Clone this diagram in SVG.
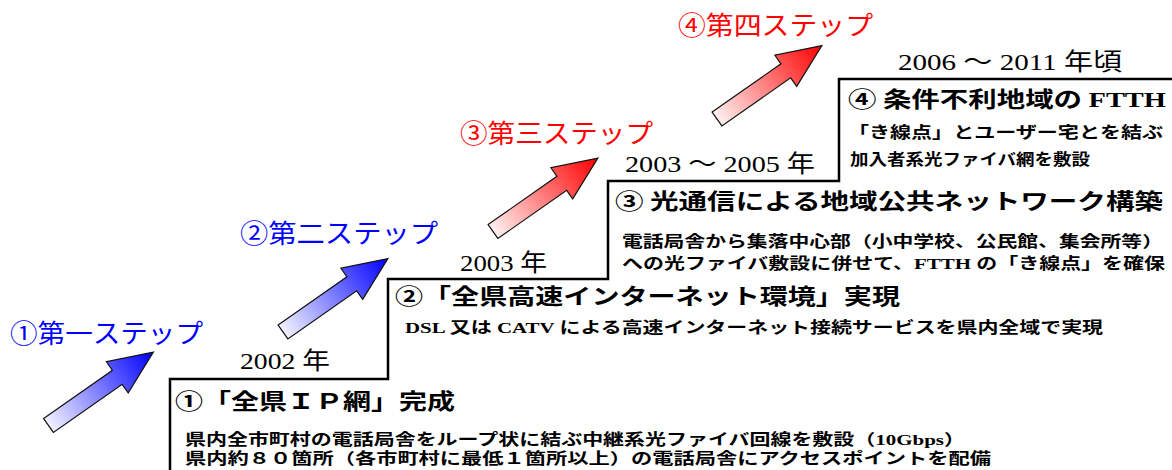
<svg xmlns="http://www.w3.org/2000/svg" width="1172" height="470" viewBox="0 0 1172 470">
<defs>
<linearGradient id="gBlue" x1="0" y1="0" x2="1" y2="0">
<stop offset="0" stop-color="#f2f2ff"/>
<stop offset="1" stop-color="#0000ff"/>
</linearGradient>
<linearGradient id="gRed" x1="0" y1="0" x2="1" y2="0">
<stop offset="0" stop-color="#fff0f0"/>
<stop offset="1" stop-color="#ff0000"/>
</linearGradient>
<path id="arr" d="M0,-8.5 H84 V-19 L128,0 L84,19 V8.5 H0 Z"/>
<style>
.step{font-family:"Noto Sans CJK JP","Liberation Sans",sans-serif;font-size:26px;}
.blue{fill:#0000ff;}
.red{fill:#ff0000;}
.year{font-family:"Liberation Serif","Noto Sans CJK JP",serif;font-size:24px;fill:#000;}
.title{font-family:"Noto Sans CJK JP","Liberation Sans",sans-serif;font-size:21.5px;font-weight:bold;fill:#000;}
.body{font-family:"Liberation Serif","Noto Sans CJK JP",serif;font-size:15.5px;font-weight:bold;fill:#000;}
.ser{font-family:"Liberation Serif",serif;}
.stair{fill:none;stroke:#000;stroke-width:2.5;}
.arrow{stroke:#111;stroke-width:1.2;stroke-linejoin:miter;}
</style>
</defs>
<rect width="1172" height="470" fill="#fff"/>

<g id="stairs">
<path class="stair" d="M170,470 V379 H388 V279 H608 V181 H839 V79 H1172"/>
</g>

<g id="connectors">
<use href="#arr" class="arrow" fill="url(#gBlue)" transform="translate(48.5,425.5) rotate(-35)"/>
<use href="#arr" class="arrow" fill="url(#gBlue)" transform="translate(283,332) rotate(-35)"/>
<use href="#arr" class="arrow" fill="url(#gRed)" transform="translate(493,231.5) rotate(-35)"/>
<use href="#arr" class="arrow" fill="url(#gRed)" transform="translate(717,119) rotate(-35)"/>
</g>

<g id="label1"><text class="step blue" x="10" y="343" textLength="193" lengthAdjust="spacingAndGlyphs">①第一ステップ</text></g>
<g id="label2"><text class="step blue" x="240" y="243" textLength="198" lengthAdjust="spacingAndGlyphs">②第二ステップ</text></g>
<g id="label3"><text class="step red" x="460" y="143" textLength="193" lengthAdjust="spacingAndGlyphs">③第三ステップ</text></g>
<g id="label4"><text class="step red" x="678" y="35" textLength="195" lengthAdjust="spacingAndGlyphs">④第四ステップ</text></g>

<g id="step1">
<text class="year" x="240" y="369" textLength="90" lengthAdjust="spacingAndGlyphs">2002 年</text>
<text class="title" x="175" y="409" textLength="280" lengthAdjust="spacingAndGlyphs">①「全県ＩＰ網」完成</text>
<text class="body" x="185" y="445" textLength="780" lengthAdjust="spacingAndGlyphs">県内全市町村の電話局舎をループ状に結ぶ中継系光ファイバ回線を敷設（10Gbps）</text>
<text class="body" x="185" y="464" textLength="806" lengthAdjust="spacingAndGlyphs">県内約８０箇所（各市町村に最低１箇所以上）の電話局舎にアクセスポイントを配備</text>
</g>

<g id="step2">
<text class="year" x="460" y="271" textLength="87" lengthAdjust="spacingAndGlyphs">2003 年</text>
<text class="title" x="395" y="304" textLength="505" lengthAdjust="spacingAndGlyphs">②「全県高速インターネット環境」実現</text>
<text class="body" x="405" y="333" textLength="698" lengthAdjust="spacingAndGlyphs">DSL 又は CATV による高速インターネット接続サービスを県内全域で実現</text>
</g>

<g id="step3">
<text class="year" x="625" y="172" textLength="190" lengthAdjust="spacingAndGlyphs">2003 ～ 2005 年</text>
<text class="title" x="615" y="209" textLength="548" lengthAdjust="spacingAndGlyphs">③ 光通信による地域公共ネットワーク構築</text>
<text class="body" x="622" y="247" textLength="541" lengthAdjust="spacingAndGlyphs">電話局舎から集落中心部（小中学校、公民館、集会所等）</text>
<text class="body" x="622" y="269" textLength="543" lengthAdjust="spacingAndGlyphs">への光ファイバ敷設に併せて、FTTH の「き線点」を確保</text>
</g>

<g id="step4">
<text class="year" x="898" y="70" textLength="224" lengthAdjust="spacingAndGlyphs">2006 ～ 2011 年頃</text>
<text class="title" x="848" y="107" textLength="318" lengthAdjust="spacingAndGlyphs">④ 条件不利地域の <tspan class="ser">FTTH</tspan></text>
<text class="body" x="848" y="138" textLength="315" lengthAdjust="spacingAndGlyphs">「き線点」とユーザー宅とを結ぶ</text>
<text class="body" x="850" y="165" textLength="240" lengthAdjust="spacingAndGlyphs">加入者系光ファイバ網を敷設</text>
</g>
</svg>
